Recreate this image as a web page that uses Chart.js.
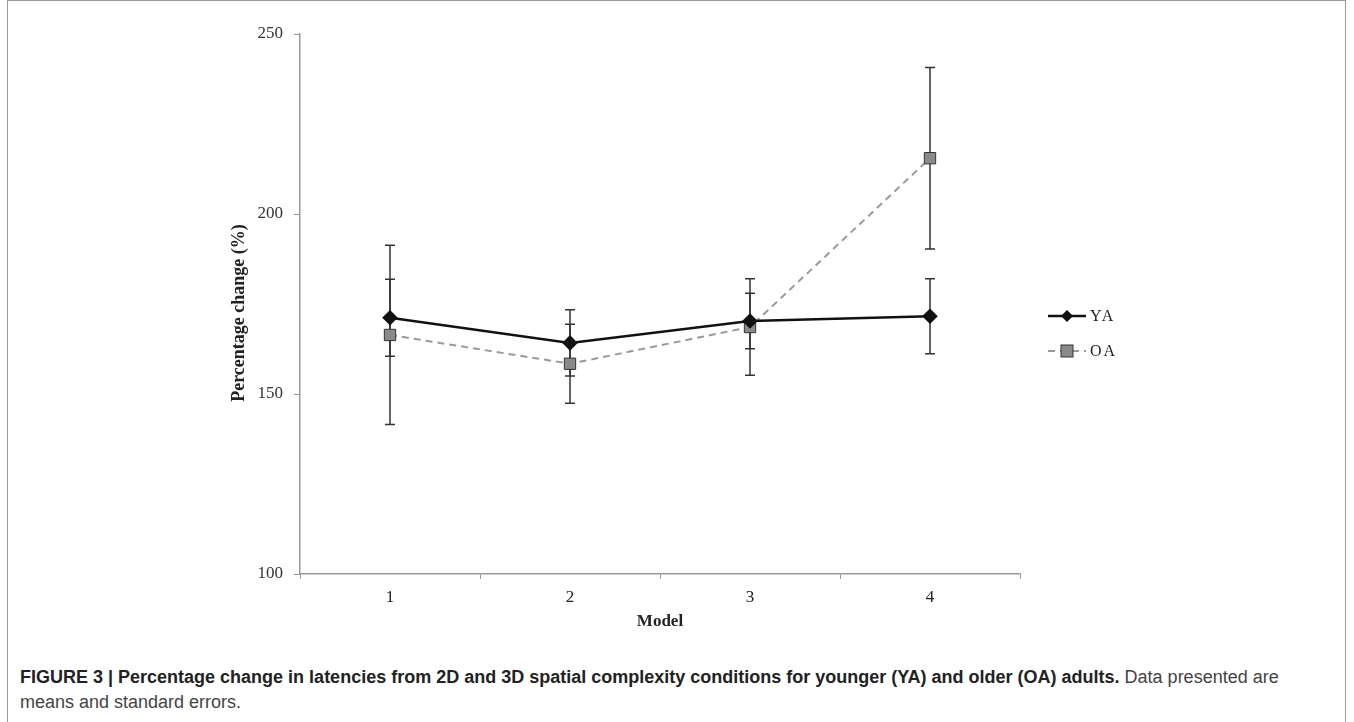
<!DOCTYPE html>
<html>
<head>
<meta charset="utf-8">
<script src="https://cdn.jsdelivr.net/npm/chart.js@4.4.1/dist/chart.umd.min.js"></script>
<style>
  html, body { margin: 0; padding: 0; background: #fff; }
  body { width: 1354px; height: 722px; position: relative; overflow: hidden; }
  #frame { position: absolute; left: 7px; top: 0; width: 1339px; height: 760px; border: 1px solid #9a9a9a; box-sizing: border-box; }
  #wrap { position: absolute; left: 0; top: 0; width: 1354px; height: 636px; }
  #caption { position: absolute; left: 20px; top: 665px; width: 1315px; font-family: "Liberation Sans", Arial, sans-serif; font-size: 18px; line-height: 25px; color: #444; }
  #caption b { color: #222; }
</style>
</head>
<body>
<div id="frame"></div>
<div id="wrap"><canvas id="chart"></canvas></div>
<div id="caption"><b>FIGURE 3 | Percentage change in latencies from 2D and 3D spatial complexity conditions for younger (YA) and older (OA) adults.</b> Data presented are means and standard errors.</div>
<script>
// values
const models = ['1', '2', '3', '4'];
const yaMean = [171.2, 164.2, 170.3, 171.6];
const yaSE = [10.7, 9.2, 7.7, 10.4];
const oaMean = [166.4, 158.4, 168.6, 215.5];
const oaSE = [24.9, 11.0, 13.4, 25.2];
const yTicks = [100, 150, 200, 250];

const serif = '"Liberation Serif", "Times New Roman", serif';

// error bars drawn under the markers
const errorBars = {
    id: 'errorBars',
    beforeDatasetsDraw(chart) {
        const ctx = chart.ctx;
        const ys = chart.scales.y;
        const ses = [yaSE, oaSE];
        ctx.save();
        ctx.strokeStyle = '#333';
        ctx.lineWidth = 1.5;
        chart.data.datasets.forEach((ds, i) => {
            const meta = chart.getDatasetMeta(i);
            meta.data.forEach((pt, j) => {
                const top = ys.getPixelForValue(ds.data[j] + ses[i][j]);
                const bot = ys.getPixelForValue(ds.data[j] - ses[i][j]);
                ctx.beginPath();
                ctx.moveTo(pt.x, top); ctx.lineTo(pt.x, bot);
                ctx.moveTo(pt.x - 5, top); ctx.lineTo(pt.x + 5, top);
                ctx.moveTo(pt.x - 5, bot); ctx.lineTo(pt.x + 5, bot);
                ctx.stroke();
            });
        });
        ctx.restore();
    }
};

// legend on the right, like the original
const sideLegend = {
    id: 'sideLegend',
    afterDraw(chart) {
        const ctx = chart.ctx;
        const x0 = 1048, x1 = 1086, xm = 1067;
        ctx.save();
        // YA
        ctx.strokeStyle = '#111'; ctx.lineWidth = 2.5;
        ctx.beginPath(); ctx.moveTo(x0, 316); ctx.lineTo(x1, 316); ctx.stroke();
        ctx.fillStyle = '#111';
        ctx.beginPath();
        ctx.moveTo(xm, 310); ctx.lineTo(xm + 6, 316); ctx.lineTo(xm, 322); ctx.lineTo(xm - 6, 316);
        ctx.closePath(); ctx.fill();
        // OA
        ctx.strokeStyle = '#9a9a9a'; ctx.lineWidth = 2; ctx.setLineDash([7, 5]);
        ctx.beginPath(); ctx.moveTo(x0, 351); ctx.lineTo(x1, 351); ctx.stroke();
        ctx.setLineDash([]);
        ctx.fillStyle = '#8a8a8a'; ctx.strokeStyle = '#333'; ctx.lineWidth = 1;
        ctx.fillRect(xm - 6, 345, 12, 12); ctx.strokeRect(xm - 6, 345, 12, 12);
        ctx.fillStyle = '#222';
        ctx.font = '16px ' + serif;
        ctx.textBaseline = 'middle';
        ctx.letterSpacing = '2px';
        ctx.fillText('YA', 1090, 317);
        ctx.fillText('OA', 1090, 352);
        ctx.restore();
    }
};

new Chart(document.getElementById('chart'), {
    type: 'line',
    data: {
        labels: models,
        datasets: [
            {
                label: 'YA',
                data: yaMean,
                borderColor: '#111',
                borderWidth: 2.5,
                pointStyle: 'rectRot',
                pointRadius: 6,
                pointBackgroundColor: '#111',
                pointBorderColor: '#111',
                tension: 0
            },
            {
                label: 'OA',
                data: oaMean,
                borderColor: '#9a9a9a',
                borderWidth: 2,
                borderDash: [7, 5],
                pointStyle: 'rect',
                pointRadius: 8,
                pointBackgroundColor: '#8a8a8a',
                pointBorderColor: '#333',
                pointBorderWidth: 1,
                tension: 0
            }
        ]
    },
    options: {
        responsive: true,
        maintainAspectRatio: false,
        animation: false,
        layout: { padding: { left: 225, right: 334, top: 34, bottom: 0 } },
        plugins: { legend: { display: false }, tooltip: { enabled: false } },
        scales: {
            x: {
                offset: true,
                grid: { offset: true, drawOnChartArea: false, color: '#999', tickLength: 5 },
                border: { color: '#999', width: 1.5 },
                ticks: { color: '#222', padding: 8, font: { family: serif, size: 17 } },
                title: { display: true, text: 'Model', color: '#222', padding: { top: 4, bottom: 4 }, font: { family: serif, size: 17, weight: 'bold' } },
                afterFit(scale) { scale.height = 62; }
            },
            y: {
                min: 100,
                max: 250,
                afterBuildTicks(scale) { scale.ticks = yTicks.map(v => ({ value: v })); },
                grid: { drawOnChartArea: false, color: '#999', tickLength: 6 },
                border: { color: '#999', width: 1.5 },
                ticks: { color: '#333', padding: 11, font: { family: serif, size: 17 } },
                title: { display: true, text: 'Percentage change (%)\u00A0\u00A0\u00A0\u00A0', color: '#222', padding: { top: 4, bottom: 4 }, font: { family: serif, size: 18, weight: 'bold' } },
                afterFit(scale) { scale.width = 75; }
            }
        }
    },
    plugins: [errorBars, sideLegend]
});
</script>
</body>
</html>
